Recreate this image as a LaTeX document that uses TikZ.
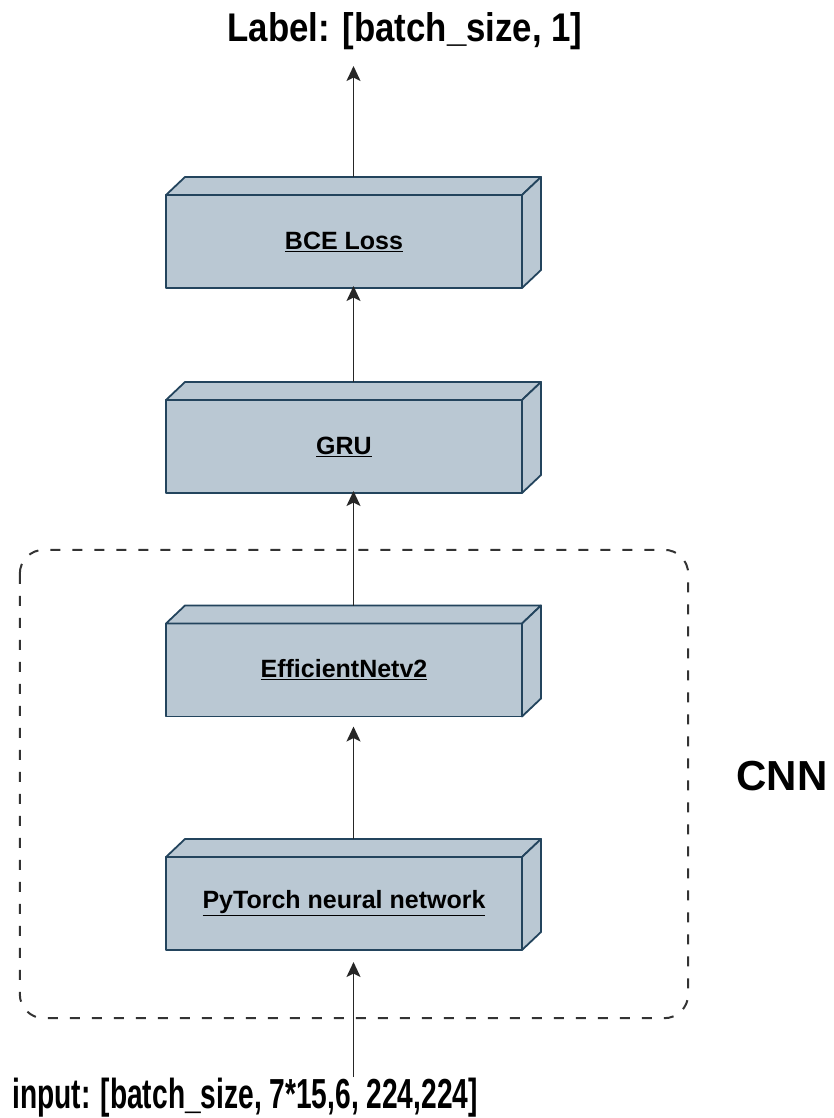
\documentclass[tikz,border=0pt]{standalone}
\usepackage{fontspec}
\setmainfont{Liberation Sans}
\newfontfamily\narrowfont[FakeStretch=0.67]{Liberation Sans}
\newfontfamily\labelfont[FakeStretch=0.87]{Liberation Sans}
\usetikzlibrary{arrows.meta,calc}
\definecolor{boxfill}{HTML}{BAC8D3}
\definecolor{boxline}{HTML}{23445D}
\definecolor{sketch}{HTML}{333333}
\tikzset{
  cube/.style={minimum width=375pt, minimum height=111pt, inner sep=0pt, outer sep=0pt},
  face/.style={fill=boxfill, draw=boxline, line width=1.8pt, line join=round},
  boxlabel/.style={font=\fontsize{25}{30}\selectfont\bfseries, inner sep=0pt},
  conn/.style={line width=1.8pt, draw=black!85, -{Stealth[length=15pt,width=14pt,inset=3.5pt]}},
  sketchy/.style={draw=sketch, line width=2pt, dash pattern=on 10pt off 12pt, rounded corners=24pt},
}
\newcommand\drawcube[2]{%
  \path[face] (#1.south west) rectangle ($(#1.north east)+(-19,18)$);
  \path[face] ($(#1.north west)+(0,18)$) -- ($(#1.north west)+(19,0)$) -- (#1.north east) -- ($(#1.north east)+(-19,18)$) -- cycle;
  \path[face] ($(#1.north east)+(-19,18)$) -- (#1.north east) -- ($(#1.south east)+(0,-18)$) -- ($(#1.south east)+(-19,0)$) -- cycle;
  \node[boxlabel] (#1-label) at ($(#1.center)+(-9.5,9)$) {\underline{#2}};
}
\begin{document}
\begin{tikzpicture}[x=1pt,y=-1pt]
  \useasboundingbox (0,0) rectangle (833,1118);
  % dashed CNN frame
  \node[draw=none, inner sep=0pt, minimum width=668pt, minimum height=468pt] (cnnframe) at (354,784) {};
  \draw[sketchy] (cnnframe.north west) rectangle (cnnframe.south east);
  \node[font=\fontsize{42}{48}\selectfont\bfseries, anchor=base] (cnn) at (782,790) {CNN};

  \node[cube] (bce) at (353.5,232.5) {};
  \node[cube] (gru) at (353.5,437.5) {};
  \node[cube] (eff) at (353.5,661) {};
  \node[cube] (pyt) at (353.5,894.5) {};
  \drawcube{bce}{BCE Loss}
  \drawcube{gru}{GRU}
  \drawcube{eff}{EfficientNetv2}
  \drawcube{pyt}{PyTorch neural network}

  \node[font=\labelfont\fontsize{40}{46}\selectfont\bfseries, anchor=base, inner sep=0pt] (label) at (405,42) {Label: [batch\_size, 1]};
  \node[font=\narrowfont\fontsize{42}{48}\selectfont\bfseries, anchor=base, inner sep=0pt] (input) at (245,1108) {input: [batch\_size, 7*15,6, 224,224]};
  \coordinate (labelin) at (353.5,66);
  \coordinate (inputout) at (353.5,1077);

  \draw[conn] (bce.north) -- (labelin);
  \draw[conn] (gru.north) -- ([yshift=2pt]bce.south);
  \draw[conn] (eff.north) -- ([yshift=2pt]gru.south);
  \draw[conn, shorten >=10pt] (pyt.north) -- (eff.south);
  \draw[conn, shorten >=12pt] (inputout) -- (pyt.south);
\end{tikzpicture}
\end{document}
